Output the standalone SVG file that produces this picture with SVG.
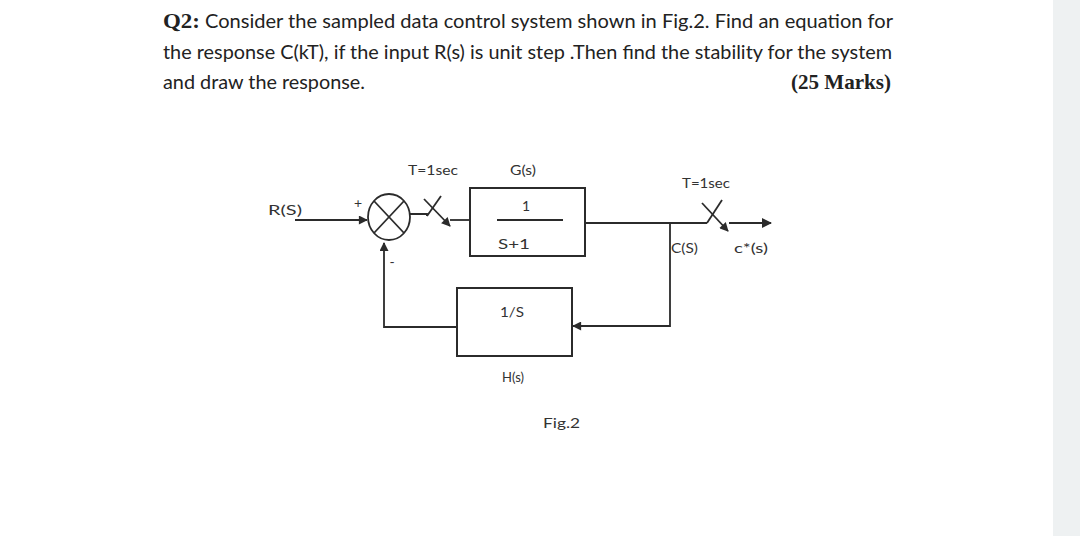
<svg xmlns="http://www.w3.org/2000/svg" width="1080" height="536" viewBox="0 0 1080 536">
<defs>
<style>
.ln{fill:none;stroke:#2b2b2b;stroke-width:1.8}
.bx{fill:#fff;stroke:#2b2b2b;stroke-width:2}
.hd{font-family:Lato,"Open Sans",sans-serif;font-size:20px;fill:#222}
.hb{font-family:"Liberation Serif","Times New Roman",serif;font-weight:bold;fill:#222}
.lb{font-family:Lato,"Open Sans",sans-serif;font-size:14px;fill:#333}
</style>
<marker id="ah" viewBox="0 0 10 10" refX="9" refY="5" markerWidth="10" markerHeight="9" markerUnits="userSpaceOnUse" orient="auto">
<path d="M0,0 L10,5 L0,10 z" fill="#2b2b2b"/>
</marker>
<marker id="ah2" viewBox="0 0 10 10" refX="9" refY="5" markerWidth="11" markerHeight="10" markerUnits="userSpaceOnUse" orient="auto">
<path d="M0,0 L10,5 L0,10 z" fill="#2b2b2b"/>
</marker>
</defs>
<rect x="0" y="0" width="1080" height="536" fill="#fff"/>
<rect x="1053" y="0" width="27" height="536" fill="#eef1f2"/>

<g id="question">
<text class="hb" x="163" y="28" font-size="22" textLength="37" lengthAdjust="spacingAndGlyphs">Q2:</text>
<text class="hd" x="205" y="28" textLength="688" lengthAdjust="spacingAndGlyphs">Consider the sampled data control system shown in Fig.2. Find an equation for</text>
<text class="hd" x="163" y="59" textLength="729" lengthAdjust="spacingAndGlyphs">the response C(kT), if the input R(s) is unit step .Then find the stability for the system</text>
<text class="hd" x="163" y="89" textLength="202" lengthAdjust="spacingAndGlyphs">and draw the response.</text>
<text class="hb" x="791" y="89" font-size="21" textLength="100" lengthAdjust="spacingAndGlyphs">(25 Marks)</text>
</g>

<g id="connectors">
<line class="ln" x1="295" y1="220" x2="367" y2="220" marker-end="url(#ah)"/>
<polyline class="ln" points="410,214 427,214 427,216"/>
<line class="ln" x1="427" y1="216" x2="441" y2="196"/>
<line class="ln" x1="424" y1="199" x2="450" y2="226" marker-end="url(#ah)"/>
<line class="ln" x1="450" y1="220" x2="470" y2="220"/>
<polyline class="ln" points="585,223 707,223"/>
<line class="ln" x1="707" y1="223" x2="722" y2="200"/>
<line class="ln" x1="702" y1="203" x2="728" y2="231" marker-end="url(#ah)"/>
<line class="ln" x1="729" y1="223" x2="771" y2="223" marker-end="url(#ah2)"/>
<polyline class="ln" points="670,223 670,326 573,326" marker-end="url(#ah)"/>
<polyline class="ln" points="457,327 384,327 384,243" marker-end="url(#ah)"/>
</g>

<g id="summer">
<ellipse class="ln" cx="389" cy="217" rx="21" ry="23"/>
<line class="ln" x1="374" y1="201" x2="404" y2="233"/>
<line class="ln" x1="404" y1="201" x2="374" y2="233"/>
<text class="lb" x="358" y="208" text-anchor="middle" font-size="14">+</text>
<text class="lb" x="392" y="267" text-anchor="middle" font-size="14">-</text>
</g>

<g id="input-label">
<text class="lb" x="268" y="215" textLength="34" lengthAdjust="spacingAndGlyphs">R(S)</text>
</g>

<g id="sampler1">
<text class="lb" x="408" y="175" textLength="50" lengthAdjust="spacingAndGlyphs">T=1sec</text>
</g>

<g id="G-block">
<rect class="bx" x="470" y="188" width="115" height="68"/>
<line class="ln" x1="497" y1="220" x2="563" y2="220"/>
<text class="lb" x="526" y="211" text-anchor="middle">1</text>
<text class="lb" x="514" y="249" text-anchor="middle" textLength="32" lengthAdjust="spacingAndGlyphs">S+1</text>
<text class="lb" x="523" y="175" text-anchor="middle" textLength="26" lengthAdjust="spacingAndGlyphs">G(s)</text>
</g>

<g id="sampler2">
<text class="lb" x="682" y="188" textLength="48" lengthAdjust="spacingAndGlyphs">T=1sec</text>
<text class="lb" x="671" y="253" textLength="27" lengthAdjust="spacingAndGlyphs">C(S)</text>
<text class="lb" x="734" y="253" font-size="12" textLength="34" lengthAdjust="spacingAndGlyphs">c*(s)</text>
</g>

<g id="H-block">
<rect class="bx" x="457" y="288" width="115" height="68"/>
<text class="lb" x="512" y="317" text-anchor="middle" textLength="24" lengthAdjust="spacingAndGlyphs">1/S</text>
<text class="lb" x="513" y="382" text-anchor="middle" textLength="22" lengthAdjust="spacingAndGlyphs">H(s)</text>
</g>

<g id="caption">
<text class="lb" x="543" y="428" font-size="16" textLength="37" lengthAdjust="spacingAndGlyphs">Fig.2</text>
</g>
</svg>
